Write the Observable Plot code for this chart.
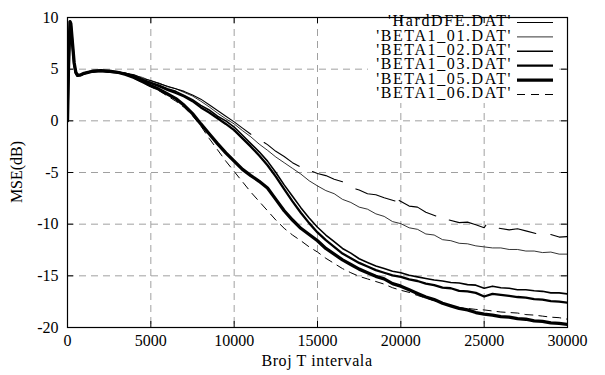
<!DOCTYPE html>
<html>
<head>
<meta charset="utf-8">
<script src="https://cdn.jsdelivr.net/npm/d3@7"></script>
<script src="https://cdn.jsdelivr.net/npm/@observablehq/plot@0.6"></script>
<style>
  html, body { margin: 0; padding: 0; background: #fff; font-family: "Liberation Serif", "DejaVu Serif", serif; }
  #chart svg, #chart svg text { font-family: "Liberation Serif", "DejaVu Serif", serif !important; }
</style>
</head>
<body>
<div id="chart"></div>
<script>
// ---------- data ----------
const seriesNames = ["'HardDFE.DAT'", "'BETA1_01.DAT'", "'BETA1_02.DAT'", "'BETA1_03.DAT'", "'BETA1_05.DAT'", "'BETA1_06.DAT'"];
const xTicks = [0, 5000, 10000, 15000, 20000, 25000, 30000];
const yTicks = [-20, -15, -10, -5, 0, 5, 10];

// shared x grid (samples) for the BETA1 series
const xs = [0, 60, 150, 200, 300, 400, 500, 600, 800, 1000, 1500, 2000, 2500, 3000, 3500,
  4000, 4500, 5000, 5500, 6000, 6500, 7000, 7500, 8000, 8500, 9000, 9500,
  10000, 10500, 11000, 11500, 12000, 12500, 13000, 13500, 14000, 14500,
  15000, 15500, 16000, 16500, 17000, 17500, 18000, 18500, 19000, 19500,
  20000, 20500, 21000, 21500, 22000, 22500, 23000, 23500, 24000, 24500,
  25000, 25500, 26000, 26500, 27000, 27500, 28000, 28500, 29000, 29500, 30000];

const beta01 = [0, 5.1, 9.5, 9.2, 7.3, 5.4, 4.6, 4.35, 4.45, 4.6, 4.8, 4.8, 4.85, 4.7, 4.6,
  4.4, 4.2, 3.85, 3.65, 3.3, 3.1, 2.75, 2.4, 1.9, 1.35, 0.75, 0.2,
  -0.3, -0.95, -1.55, -2.25, -2.85, -3.5, -4.05, -4.6, -5.15, -5.8,
  -6.3, -6.75, -7.05, -7.6, -7.9, -8.35, -8.55, -9.0, -9.25, -9.75,
  -9.95, -10.35, -10.5, -10.95, -11.05, -11.5, -11.6, -11.85, -11.9, -12.1,
  -12.2, -12.3, -12.3, -12.45, -12.45, -12.6, -12.6, -12.75, -12.7, -12.9, -12.9];

const beta02 = [0, 5.0, 9.5, 9.3, 7.5, 5.5, 4.6, 4.4, 4.4, 4.6, 4.75, 4.8, 4.75, 4.7, 4.55,
  4.3, 4.0, 3.7, 3.45, 3.1, 2.85, 2.45, 2.05, 1.5, 1.05, 0.45, 0.0,
  -0.6, -1.4, -2.2, -3.0, -3.9, -5.0, -6.2, -7.3, -8.4, -9.4,
  -10.3, -11.05, -11.7, -12.35, -12.8, -13.35, -13.7, -14.05, -14.3, -14.55,
  -14.7, -14.95, -15.1, -15.25, -15.4, -15.5, -15.65, -15.7, -15.85, -15.9,
  -16.2, -16.0, -16.15, -16.2, -16.35, -16.35, -16.45, -16.5, -16.65, -16.65, -16.75];

const beta03 = [0, 5.1, 9.6, 9.3, 7.4, 5.5, 4.6, 4.4, 4.45, 4.6, 4.8, 4.85, 4.75, 4.7, 4.55,
  4.3, 3.95, 3.65, 3.35, 3.0, 2.7, 2.35, 1.9, 1.3, 0.8, 0.25, -0.3,
  -0.9, -1.7, -2.5, -3.35, -4.3, -5.4, -6.6, -7.8, -8.9, -9.9,
  -10.8, -11.55, -12.2, -12.85, -13.3, -13.75, -14.1, -14.45, -14.7, -14.95,
  -15.1, -15.35, -15.5, -15.75, -15.9, -16.15, -16.2, -16.45, -16.5, -16.65,
  -17.0, -16.75, -16.85, -16.95, -17.05, -17.1, -17.25, -17.3, -17.45, -17.5, -17.6];

const beta05 = [0, 5.2, 9.6, 9.4, 7.5, 5.6, 4.7, 4.4, 4.45, 4.6, 4.8, 4.85, 4.8, 4.7, 4.5,
  4.2, 3.8, 3.4, 3.05, 2.6, 2.15, 1.5, 0.7, -0.3, -1.25, -2.2, -3.1,
  -3.9, -4.7, -5.3, -5.85, -6.5, -7.6, -8.7, -9.6, -10.4, -11.0,
  -11.6, -12.35, -12.9, -13.45, -13.9, -14.35, -14.7, -15.05, -15.3, -15.75,
  -16.0, -16.35, -16.7, -17.05, -17.3, -17.65, -17.9, -18.15, -18.3, -18.55,
  -18.7, -18.8, -18.95, -19.0, -19.15, -19.2, -19.35, -19.4, -19.55, -19.6, -19.7];

const beta06 = [0, 5.0, 9.5, 9.3, 7.4, 5.5, 4.6, 4.4, 4.4, 4.6, 4.75, 4.8, 4.75, 4.65, 4.45,
  4.1, 3.7, 3.3, 2.9, 2.4, 1.9, 1.3, 0.5, -0.5, -1.7, -2.8, -3.9,
  -4.9, -5.9, -6.9, -7.8, -8.7, -9.6, -10.4, -11.05, -11.6, -12.2,
  -12.7, -13.3, -13.8, -14.3, -14.7, -15.05, -15.3, -15.55, -15.8, -16.15,
  -16.4, -16.6, -16.9, -17.15, -17.4, -17.7, -17.95, -18.1, -18.15, -18.25,
  -18.3, -18.4, -18.5, -18.55, -18.6, -18.75, -18.8, -18.9, -19.0, -19.05, -19.2];

// HardDFE has missing stretches (null = gap)
const hardX = [0, 60, 150, 200, 300, 400, 500, 600, 800, 1000, 1500, 2000, 2500, 3000, 3500,
  4000, 4500, 5000, 5500, 6000, 6500, 7000, 7500, 8000, 8500, 9000, 9500, 10000, 10500, 11000,
  11400, 11800, 12000, 12500, 13000, 13500, 13900,
  14300, 14700, 15000, 15500, 16000, 16500,
  16900, 17300, 17500, 18000, 18500, 19000, 19650,
  19780, 19900, 20500, 21000, 21500, 22100,
  22500, 22900, 23500, 24000, 24500, 25000, 25100,
  25500, 25900, 26500, 27000, 27500, 28100,
  28550, 29000, 29500, 30000];
const hardY = [0, 5.2, 9.6, 9.3, 7.4, 5.5, 4.6, 4.4, 4.4, 4.55, 4.75, 4.85, 4.8, 4.75, 4.6,
  4.45, 4.1, 3.9, 3.6, 3.35, 3.1, 2.85, 2.5, 2.1, 1.55, 1.0, 0.45, -0.1, -0.7, -1.3,
  null, -2.1, -2.3, -2.95, -3.45, -4.05, -4.4,
  null, -4.9, -5.1, -5.3, -5.65, -5.9,
  null, -6.6, -6.7, -7.05, -7.15, -7.45, -7.75,
  null, -7.7, -8.25, -8.35, -8.85, -9.2,
  null, -9.6, -9.85, -9.8, -10.05, -10.35, -10.1,
  null, -10.4, -10.55, -10.45, -10.65, -10.9,
  null, -11.0, -11.25, -11.2];

// ---------- build tables ----------
const rows = (xv, yv) => xv.map((x, i) => ({x, y: yv[i]}));
const dHard = rows(hardX, hardY);
const d01 = rows(xs, beta01);
const d02 = rows(xs, beta02);
const d03 = rows(xs, beta03);
const d05 = rows(xs, beta05);
const d06 = rows(xs, beta06);

const styles = [
  {w: 1.1, dash: null},
  {w: 0.8, dash: null},
  {w: 1.6, dash: null},
  {w: 2.3, dash: null},
  {w: 3.3, dash: null},
  {w: 1.0, dash: "8,6"}
];

const W = 605, H = 375;
const mL = 67, mR = 38, mT = 17, mB = 48;
const innerH = H - mT - mB, innerW = W - mL - mR;
const FONT = "Liberation Serif, DejaVu Serif, serif";
const gridStyle = {stroke: "#a0a0a0", strokeWidth: 1, strokeDasharray: "7,5"};

const chart = Plot.plot({
  width: W, height: H,
  marginLeft: mL, marginRight: mR, marginTop: mT, marginBottom: mB,
  style: {fontFamily: FONT, fontSize: "16px", background: "#fff", color: "#000"},
  x: {domain: [0, 30000]},
  y: {domain: [-20, 10]},
  marks: [
    Plot.ruleX(xTicks.slice(1, -1), {x: d => d, ...gridStyle}),
    Plot.ruleY(yTicks.slice(1, -1), {y: d => d, ...gridStyle}),
    Plot.line(dHard, {x: "x", y: "y", stroke: "#000", strokeWidth: styles[0].w, clip: true}),
    Plot.line(d01, {x: "x", y: "y", stroke: "#000", strokeWidth: styles[1].w, clip: true}),
    Plot.line(d02, {x: "x", y: "y", stroke: "#000", strokeWidth: styles[2].w, clip: true}),
    Plot.line(d03, {x: "x", y: "y", stroke: "#000", strokeWidth: styles[3].w, clip: true}),
    Plot.line(d05, {x: "x", y: "y", stroke: "#000", strokeWidth: styles[4].w, clip: true}),
    Plot.line(d06, {x: "x", y: "y", stroke: "#000", strokeWidth: styles[5].w, strokeDasharray: styles[5].dash, clip: true}),
    // inward ticks
    Plot.tickX(xTicks, {x: d => d, insetTop: innerH - 6, stroke: "#000"}),
    Plot.tickX(xTicks, {x: d => d, insetBottom: innerH - 6, stroke: "#000"}),
    Plot.tickY(yTicks, {y: d => d, insetRight: innerW - 6, stroke: "#000"}),
    Plot.tickY(yTicks, {y: d => d, insetLeft: innerW - 6, stroke: "#000"}),
    Plot.axisX({ticks: xTicks, tickSize: 0, tickPadding: 7, tickFormat: d => String(d), fontSize: 16, fontFamily: FONT, label: null}),
    Plot.axisY({ticks: yTicks, tickSize: 0, tickPadding: 9, tickFormat: d => String(d), fontSize: 16, fontFamily: FONT, label: null}),
    Plot.frame({stroke: "#000", strokeWidth: 1.2})
  ]
});

document.getElementById("chart").appendChild(chart);

// ---------- axis titles & legend (added to the same SVG) ----------
const svg = d3.select(chart);
svg.append("text")
  .attr("x", mL + innerW / 2).attr("y", 362)
  .attr("text-anchor", "middle").attr("dominant-baseline", "middle")
  .attr("font-size", 16).style("letter-spacing", "0.6px")
  .text("Broj T intervala");
svg.append("text")
  .attr("transform", `translate(18,${mT + innerH / 2}) rotate(-90)`)
  .attr("text-anchor", "middle").attr("dominant-baseline", "middle")
  .attr("font-size", 16)
  .text("MSE(dB)");

const legend = svg.append("g");
const rowY0 = 22.5, rowDY = 14.4;
legend.append("rect")
  .attr("x", 368).attr("y", mT + 1.5).attr("width", W - mR - 368 - 8).attr("height", rowY0 + rowDY * 5 + 7 - mT)
  .attr("fill", "#fff");
seriesNames.forEach((name, i) => {
  const y = rowY0 + i * rowDY;
  legend.append("text")
    .attr("x", 512).attr("y", y)
    .attr("text-anchor", "end").attr("dominant-baseline", "middle")
    .attr("font-size", 16).style("letter-spacing", "1.6px")
    .text(name);
  const ln = legend.append("line")
    .attr("x1", 517).attr("x2", 553).attr("y1", y).attr("y2", y)
    .attr("stroke", "#000").attr("stroke-width", styles[i].w);
  if (styles[i].dash) ln.attr("stroke-dasharray", styles[i].dash);
});
svg.selectAll("text").attr("font-family", FONT).style("font-family", FONT);
svg.selectAll("g[aria-label='tick']").raise();
svg.selectAll("[aria-label='frame']").raise();
</script>
</body>
</html>
